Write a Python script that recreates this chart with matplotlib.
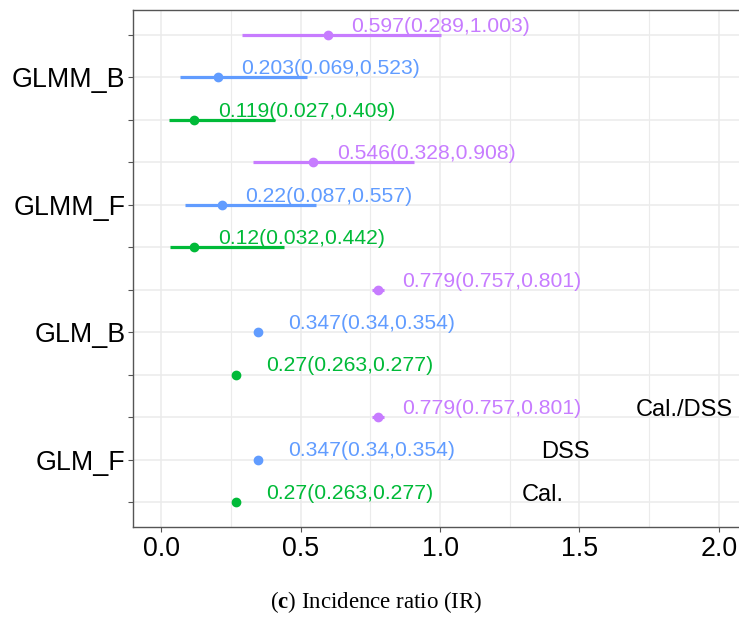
import numpy as np
import matplotlib
matplotlib.use('Agg')
import matplotlib.pyplot as plt
import matplotlib as mpl

### Data
models = ['GLMM_B', 'GLMM_F', 'GLM_B', 'GLM_F']
groups = ['Cal./DSS', 'DSS', 'Cal.']

est_caldss = [0.597, 0.546, 0.779, 0.779]
lo_caldss = [0.289, 0.328, 0.757, 0.757]
hi_caldss = [1.003, 0.908, 0.801, 0.801]

est_dss = [0.203, 0.22, 0.347, 0.347]
lo_dss = [0.069, 0.087, 0.34, 0.34]
hi_dss = [0.523, 0.557, 0.354, 0.354]

est_cal = [0.119, 0.12, 0.27, 0.27]
lo_cal = [0.027, 0.032, 0.263, 0.263]
hi_cal = [0.409, 0.442, 0.277, 0.277]

xticks = [0.0, 0.5, 1.0, 1.5, 2.0]

### Style
colors = ['#C77CFF', '#619CFF', '#00BA38']
# label offsets to the right of the point (per model row, per group)
nudge = [[0.085, 0.083, 0.085],
         [0.085, 0.083, 0.085],
         [0.086, 0.108, 0.108],
         [0.086, 0.108, 0.108]]

params = {
    'font.family': ['Liberation Sans', 'DejaVu Sans'],
    'mathtext.fontset': 'custom',
    'mathtext.rm': 'Liberation Serif',
    'mathtext.bf': 'Liberation Serif:bold',
}
mpl.rcParams.update(params)

fig = plt.figure(figsize=(7.39, 6.24), dpi=100)
ax = fig.add_axes([133 / 739, 1 - 527 / 624, 1 - 133 / 739, (527 - 10) / 624])

series = [(est_caldss, lo_caldss, hi_caldss),
          (est_dss, lo_dss, hi_dss),
          (est_cal, lo_cal, hi_cal)]

n = len(models)
rows = []
for i, m in enumerate(models):
    for j, (est, lo, hi) in enumerate(series):
        y = 3 * (n - i) - j
        rows.append(y)
        c = colors[j]
        ax.plot([lo[i], hi[i]], [y, y], color=c, lw=2.3, solid_capstyle='butt', zorder=3)
        ax.plot(est[i], y, 'o', color=c, ms=6, zorder=4)
        lab = f"{est[i]}({lo[i]},{hi[i]})"
        ax.text(est[i] + nudge[i][j], y + 0.075, lab, color=c, fontsize=15.2,
                ha='left', va='baseline', zorder=5)

# group names next to the last block
ax.text(1.703, 3 + 0.03, groups[0], fontsize=17, ha='left', va='baseline')
ax.text(1.362, 2 + 0.03, groups[1], fontsize=17, ha='left', va='baseline')
ax.text(1.294, 1 + 0.03, groups[2], fontsize=17, ha='left', va='baseline')

ax.set_xlim(-0.1004, 2.0717)
ax.set_ylim(0.41, 12.59)

rows = sorted(rows)
ax.set_yticks(rows)
ylabels = [''] * len(rows)
for i, m in enumerate(models):
    ylabels[rows.index(3 * (n - i) - 1)] = m
ax.set_yticklabels(ylabels)
ax.set_xticks(xticks)
ax.set_xticklabels([f"{v:.1f}" for v in xticks])
ax.set_xticks([0.25, 0.75, 1.25, 1.75], minor=True)

ax.grid(True, which='major', color='#EBEBEB', lw=1.1, zorder=0)
ax.grid(True, which='minor', axis='x', color='#EBEBEB', lw=0.8, zorder=0)
ax.set_axisbelow(True)
ax.tick_params(axis='both', which='major', labelsize=19.3, color='#555555',
               length=3.5, width=0.8, labelcolor='black')
ax.tick_params(axis='y', pad=2)
ax.tick_params(axis='x', pad=3)
ax.tick_params(axis='x', which='minor', length=0)

for s in ['left', 'top', 'bottom']:
    ax.spines[s].set_color('#555555')
    ax.spines[s].set_linewidth(1.0)
ax.spines['right'].set_visible(False)

fig.text(376 / 739, 1 - 602 / 624, r"($\mathbf{c}$) Incidence ratio (IR)",
         family='Liberation Serif', fontsize=16.5, ha='center', va='center')

fig.savefig('out.png', dpi=100)
